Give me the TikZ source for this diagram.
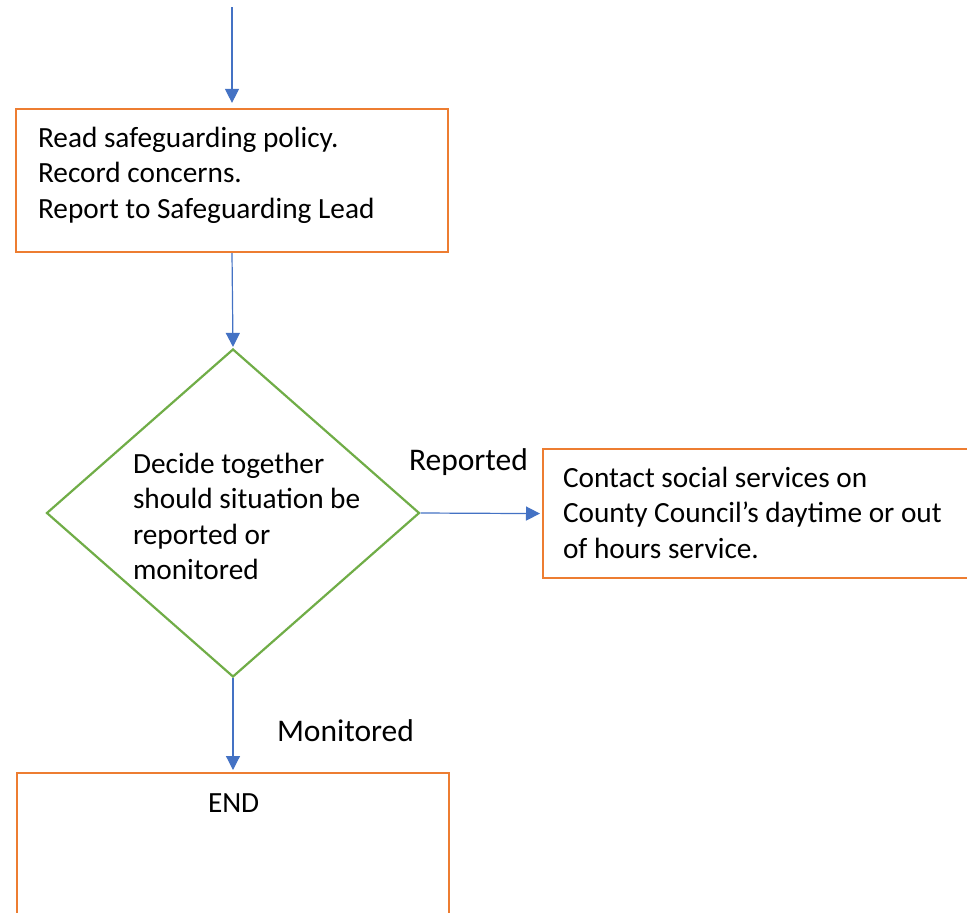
\documentclass[tikz,border=0pt]{standalone}
\usepackage{fontspec}
\setmainfont{Carlito}
\usetikzlibrary{shapes.geometric,arrows.meta}
\definecolor{boxorange}{HTML}{ED7D31}
\definecolor{decgreen}{HTML}{70AD47}
\definecolor{flowblue}{HTML}{4472C4}
\tikzset{
  procbox/.style={draw=boxorange, line width=2.2pt, fill=white, rectangle, inner sep=0pt},
  decision/.style={draw=decgreen, line width=2.2pt, diamond, inner sep=0pt},
  flow/.style={draw=flowblue, line width=1.2pt, -{Triangle[width=14pt,length=14pt]}, flowblue},
  txt/.style={inner sep=0pt, outer sep=0pt, font=\fontsize{29.3}{35.5}\selectfont, anchor=base west, align=left},
  lbl/.style={txt, font=\fontsize{31.5}{35.5}\selectfont}
}
\begin{document}
\begin{tikzpicture}[x=1pt,y=-1pt]
  \useasboundingbox (0,0) rectangle (967,913);
  \clip (0,0) rectangle (967,913);
  \fill[white] (0,0) rectangle (967,913);

  % boxes and decision
  \node[procbox, minimum width=432pt, minimum height=143pt] (read) at (232,180.5) {};
  \node[decision, minimum width=373pt, minimum height=328pt] (decide) at (233,513) {};
  \node[procbox, minimum width=460pt, minimum height=129pt, anchor=north west] (contact) at (542,448) {};
  \node[procbox, minimum width=432pt, minimum height=170pt, anchor=north west] (finish) at (16,772) {};

  % texts (each anchored at the baseline of its last line)
  \node[txt] (readtext) at (38,218) {Read safeguarding policy.\\Record concerns.\\Report to Safeguarding Lead};
  \node[txt] (decidetext) at (133,579.5) {Decide together\\should situation be\\reported or\\monitored};
  \node[txt] (contacttext) at (563,558) {Contact social services on\\County Council’s daytime or out\\of hours service.};
  \node[txt] (endtext) at (208,812) {END};
  \node[lbl] (reportedlbl) at (409,470) {Reported};
  \node[lbl] (monitoredlbl) at (277,741) {Monitored};

  % connectors
  \coordinate (entry) at (232,7);
  \draw[flow, shorten >=5pt] (entry) -- (read.north);
  \draw[flow, shorten >=1pt] (read.south) -- (decide.north);
  \draw[flow, shorten >=2pt] (decide.east) -- (contact.west);
  \draw[flow, shorten >=2pt] (decide.south) -- (decide.south |- finish.north);
\end{tikzpicture}
\end{document}
